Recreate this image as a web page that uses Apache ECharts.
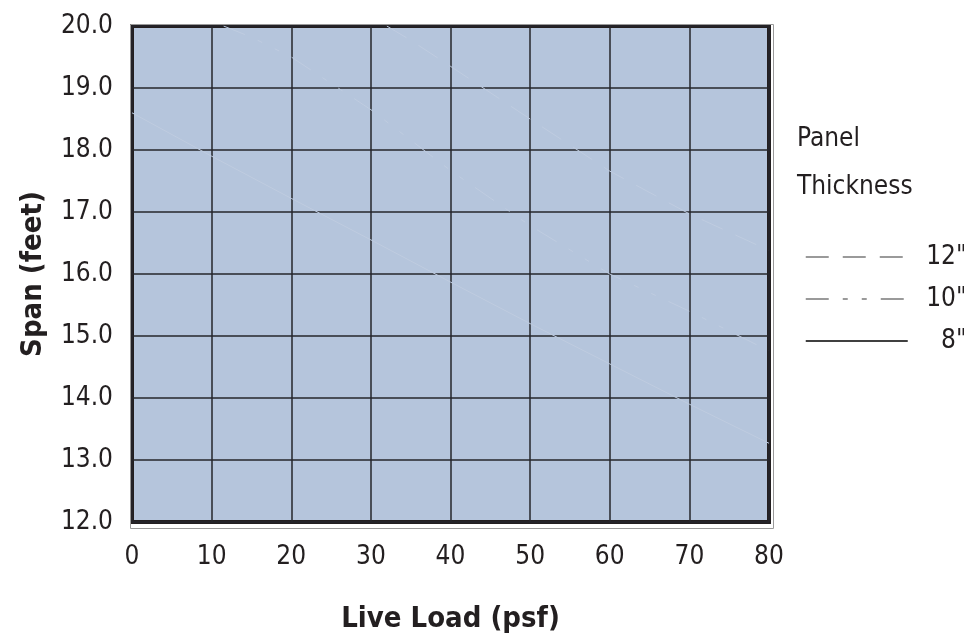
<!DOCTYPE html>
<html>
<head>
<meta charset="utf-8">
<script src="https://cdn.jsdelivr.net/npm/echarts@6/dist/echarts.min.js"></script>
<style>
html,body{margin:0;padding:0;background:#fff;}
#chart{width:964px;height:643px;}
</style>
</head>
<body>
<div id="chart"></div>
<script>
// Data
var xTicks = [0, 10, 20, 30, 40, 50, 60, 70, 80];
var yTicks = [12, 13, 14, 15, 16, 17, 18, 19, 20];
var seriesNames = ['12"', '10"', '8"'];
var panel12 = [[32, 20.0], [35, 19.77], [40, 19.35], [50, 18.5], [60, 17.66], [70, 16.97], [80, 16.38]];
var panel10 = [[11.5, 20.0], [15, 19.82], [20, 19.5], [30, 18.65], [40, 17.67], [50, 16.78], [60, 16.0], [70, 15.4], [80, 14.76]];
var panel8 = [[0, 18.6], [10, 17.9], [20, 17.22], [30, 16.55], [40, 15.87], [50, 15.2], [60, 14.55], [70, 13.9], [80, 13.27]];

var FONT = '"Liberation Sans Narrow", "DejaVu Sans Condensed", "Liberation Sans", sans-serif';
var TXT = '#231f20';
var faint = '#bfcce0';
var dash12 = [23, 14];
var dash10 = [23, 14, 5, 14, 5, 14];
var hiddenSymbol = { color: 'rgba(0,0,0,0)', borderColor: 'rgba(0,0,0,0)', borderWidth: 0 };

var chart = echarts.init(document.getElementById('chart'));
chart.setOption({
  animation: false,
  backgroundColor: '#ffffff',
  grid: {
    left: 132, right: 195, top: 26, bottom: 121,
    show: true,
    backgroundColor: '#b5c5dc',
    borderColor: TXT,
    borderWidth: 4
  },
  graphic: [
    { type: 'rect', left: 128, top: 22, shape: { width: 643, height: 504 }, style: { fill: 'none', stroke: '#9a9a9a', lineWidth: 1 }, z: 10 },
    { type: 'text', left: 797, top: 126, style: { text: 'Panel', font: '26px ' + FONT, fill: TXT } },
    { type: 'text', left: 797, top: 174, style: { text: 'Thickness', font: '26px ' + FONT, fill: TXT } }
  ],
  legend: {
    orient: 'vertical',
    left: 800, top: 239,
    itemWidth: 102, itemHeight: 14, itemGap: 16,
    itemStyle: hiddenSymbol,
    data: [
      { name: seriesNames[0], itemStyle: hiddenSymbol, lineStyle: { color: '#7a7a7a', width: 1.5, opacity: 1, type: dash12 } },
      { name: seriesNames[1], itemStyle: hiddenSymbol, lineStyle: { color: '#7a7a7a', width: 1.5, opacity: 1, type: dash10 } },
      { name: seriesNames[2], itemStyle: hiddenSymbol, lineStyle: { color: '#000000', width: 1.5, opacity: 1, type: 'solid' } }
    ],
    formatter: function (n) { return '{a|' + n + '}'; },
    textStyle: {
      rich: { a: { width: 54, align: 'right', fontSize: 26, fontFamily: FONT, color: TXT } }
    }
  },
  xAxis: {
    type: 'value', min: xTicks[0], max: xTicks[xTicks.length - 1], interval: 10,
    name: 'Live Load (psf)', nameLocation: 'middle', nameGap: 83,
    nameTextStyle: { fontSize: 29, fontWeight: 'bold', fontFamily: FONT, color: TXT },
    axisLine: { show: false }, axisTick: { show: false },
    axisLabel: { margin: 22, fontSize: 26, fontFamily: FONT, color: TXT },
    splitLine: { show: true, lineStyle: { color: '#26262b', width: 1.5 } }
  },
  yAxis: {
    type: 'value', min: yTicks[0], max: yTicks[yTicks.length - 1], interval: 1,
    name: 'Span (feet)', nameLocation: 'middle', nameGap: 84,
    nameTextStyle: { fontSize: 29, fontWeight: 'bold', fontFamily: FONT, color: TXT },
    axisLine: { show: false }, axisTick: { show: false },
    axisLabel: { margin: 19, fontSize: 26, fontFamily: FONT, color: TXT, formatter: function (v) { return v.toFixed(1); } },
    splitLine: { show: true, lineStyle: { color: '#26262b', width: 1.5 } }
  },
  series: [
    { name: seriesNames[0], type: 'line', data: panel12, symbol: 'none',
      lineStyle: { color: faint, width: 1, type: dash12 } },
    { name: seriesNames[1], type: 'line', data: panel10, symbol: 'none',
      lineStyle: { color: faint, width: 1, type: dash10 } },
    { name: seriesNames[2], type: 'line', data: panel8, symbol: 'none',
      lineStyle: { color: faint, width: 1, type: 'solid' } }
  ]
});
</script>
</body>
</html>
